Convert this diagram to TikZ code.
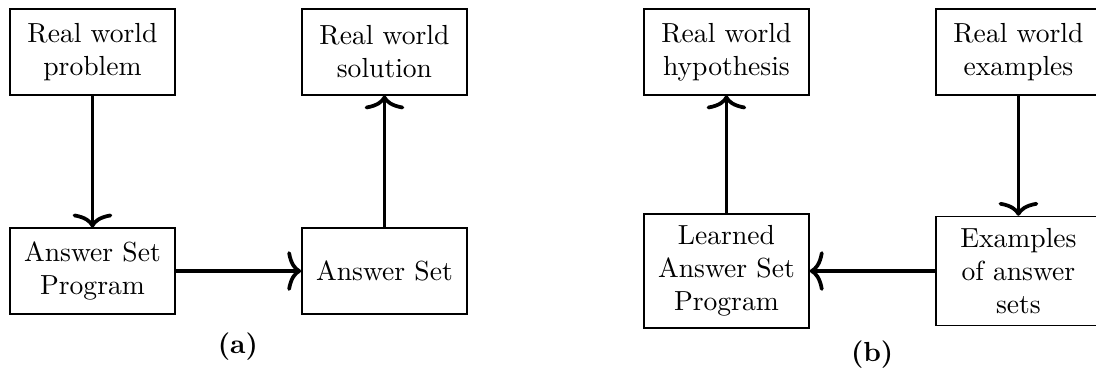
\documentclass[tikz,border=0pt]{standalone}
\usepackage{amsmath}
\usepackage{tikz}
\usetikzlibrary{arrows,arrows.meta}

\begin{document}
\begin{tikzpicture}[x=1pt,y=1pt]
\tikzstyle{box}=[rectangle,draw,line width=0.6pt,align=center,inner sep=4.2pt,minimum width=59.8pt,minimum height=31pt]
\tikzstyle{flow}=[-{To[scale=1.5,scale length=1.1]},line width=1.35pt]
\useasboundingbox (0,0) rectangle (397.1,134.8);
% (a)
\node[box] (prob) at (33.5,116) {Real world\\problem};
\node[box] (sol) at (139.3,116) {Real world\\solution};
\node[box] (asp) at (33.5,36.6) {Answer Set\\Program};
\node[box] (as) at (139.3,36.6) {Answer Set};
\node (capa) at (86.2,9.4) {\textbf{(a)}};
\draw[flow] (prob) -- (asp);
\draw[flow] (asp) -- (as);
\draw[flow] (as) -- (sol);
% (b)
\node[box] (hyp) at (263.2,116) {Real world\\hypothesis};
\node[box] (ex) at (369,116) {Real world\\examples};
\node[box] (lasp) at (263.2,36.6) {Learned\\Answer Set\\Program};
\node[box] (exas) at (369,36.6) {Examples\\of answer\\sets};
\node (capb) at (316,6.2) {\textbf{(b)}};
\draw[flow] (ex) -- (exas);
\draw[flow] (exas) -- (lasp);
\draw[flow] (lasp) -- (hyp);
\end{tikzpicture}
\end{document}
